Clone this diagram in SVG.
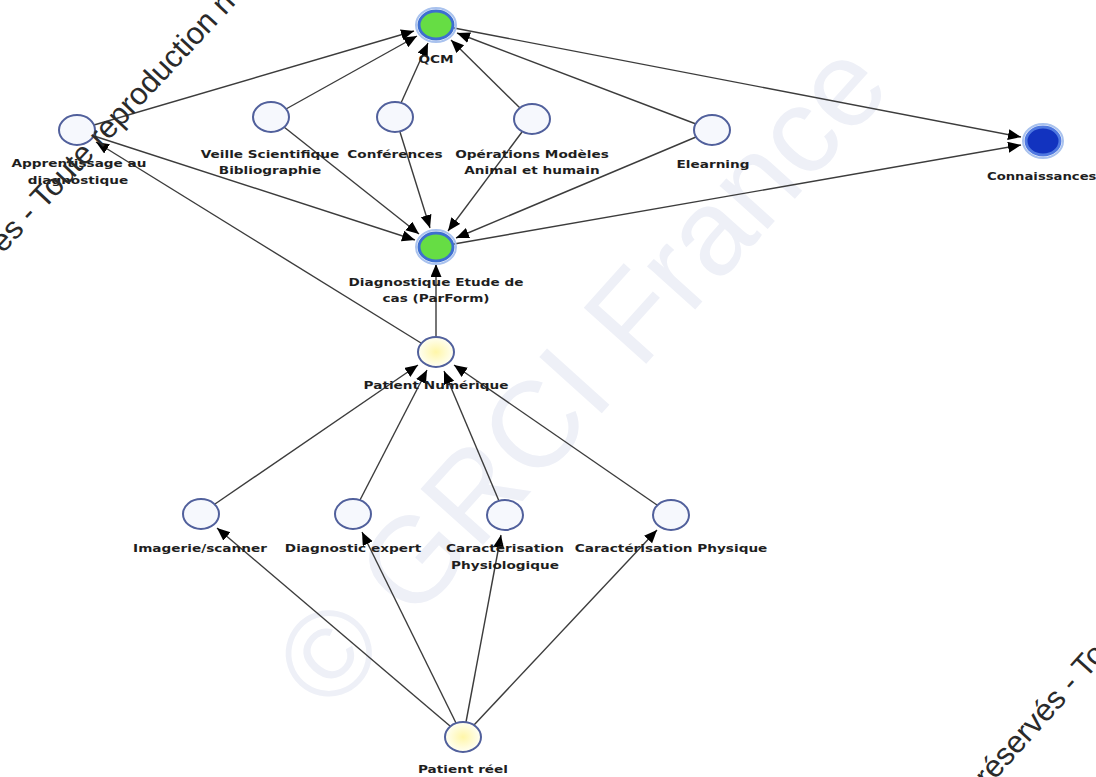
<svg xmlns="http://www.w3.org/2000/svg" width="1096" height="777" viewBox="0 0 1096 777">
<defs>
<style>
.wm{font-family:"Liberation Sans",Arial,sans-serif;font-size:31px;fill:#2a2a2a}
.wmf{font-family:"Liberation Sans",Arial,sans-serif;font-size:122px;fill:#eef0f7}
.edge{stroke:#3c3c3c;stroke-width:1.4;fill:none;marker-end:url(#ah)}
.lbl{font-family:"DejaVu Sans","Noto Sans",sans-serif;font-weight:bold;font-size:11px;fill:#1e1e1e;text-anchor:middle}
.plain{fill:#f6f8fd;stroke:#51609c;stroke-width:2}
.yel{fill:url(#yg);stroke:#51609c;stroke-width:2}
.green{fill:#66dd44;stroke:#3d6fd0;stroke-width:3}
.blue{fill:#1233bf;stroke:#5079e0;stroke-width:3}
.glow{fill:none;stroke:#a9c2ee;stroke-width:2}
</style>
<radialGradient id="yg" cx="0.5" cy="0.5" r="0.5">
<stop offset="0" stop-color="#fff6a8"/>
<stop offset="1" stop-color="#fffff4"/>
</radialGradient>
<marker id="ah" markerUnits="userSpaceOnUse" markerWidth="14" markerHeight="12" refX="13" refY="5.5" orient="auto">
<path d="M0,0 L13,5.5 L0,11 z" fill="#000"/>
</marker>
</defs>
<rect width="1096" height="777" fill="#ffffff"/>
<text class="wmf" transform="translate(330 715) rotate(-48)">© GRCI France</text>
<g id="connectors">
<line class="edge" x1="94" y1="125" x2="414" y2="31"/>
<line class="edge" x1="286" y1="109" x2="417" y2="36"/>
<line class="edge" x1="401" y1="103" x2="428" y2="43"/>
<line class="edge" x1="520" y1="108" x2="451" y2="40"/>
<line class="edge" x1="696" y1="124" x2="457" y2="33"/>
<line class="edge" x1="454" y1="28" x2="1021" y2="137"/>
<line class="edge" x1="454" y1="244" x2="1021" y2="145"/>
<line class="edge" x1="94" y1="136" x2="415" y2="240"/>
<line class="edge" x1="421" y1="343" x2="96" y2="142"/>
<line class="edge" x1="284" y1="127" x2="419" y2="234"/>
<line class="edge" x1="400" y1="132" x2="430" y2="228"/>
<line class="edge" x1="522" y1="132" x2="448" y2="231"/>
<line class="edge" x1="696" y1="137" x2="456" y2="238"/>
<line class="edge" x1="436" y1="337" x2="436" y2="264"/>
<line class="edge" x1="215" y1="504" x2="418" y2="365"/>
<line class="edge" x1="360" y1="500" x2="427" y2="370"/>
<line class="edge" x1="499" y1="501" x2="444" y2="371"/>
<line class="edge" x1="657" y1="505" x2="454" y2="365"/>
<line class="edge" x1="450" y1="726" x2="217" y2="528"/>
<line class="edge" x1="456" y1="723" x2="362" y2="532"/>
<line class="edge" x1="466" y1="722" x2="501" y2="535"/>
<line class="edge" x1="474" y1="725" x2="657" y2="530"/>
</g>
<g id="qcm">
<ellipse class="glow" cx="436" cy="25" rx="20" ry="17"/>
<ellipse class="green" cx="436" cy="25" rx="17" ry="14"/>
<text class="lbl" transform="translate(436 63) scale(1.24 1)">QCM</text>
</g>
<g id="apprentissage">
<ellipse class="plain" cx="77" cy="130" rx="18" ry="15"/>
<text class="lbl" transform="translate(79 167) scale(1.24 1)">Apprentissage au</text>
<text class="lbl" transform="translate(78 184) scale(1.24 1)">diagnostique</text>
</g>
<g id="veille">
<ellipse class="plain" cx="271" cy="117" rx="18" ry="15"/>
<text class="lbl" transform="translate(270 158) scale(1.24 1)">Veille Scientifique</text>
<text class="lbl" transform="translate(270 174) scale(1.24 1)">Bibliographie</text>
</g>
<g id="conferences">
<ellipse class="plain" cx="395" cy="117" rx="18" ry="15"/>
<text class="lbl" transform="translate(395 158) scale(1.24 1)">Conférences</text>
</g>
<g id="operations">
<ellipse class="plain" cx="532" cy="119" rx="18" ry="15"/>
<text class="lbl" transform="translate(532 158) scale(1.24 1)">Opérations Modèles</text>
<text class="lbl" transform="translate(532 174) scale(1.24 1)">Animal et humain</text>
</g>
<g id="elearning">
<ellipse class="plain" cx="712" cy="130" rx="18" ry="15"/>
<text class="lbl" transform="translate(713 168) scale(1.24 1)">Elearning</text>
</g>
<g id="connaissances">
<ellipse class="glow" cx="1043" cy="141" rx="20" ry="17"/>
<ellipse class="blue" cx="1043" cy="141" rx="17" ry="14"/>
<text class="lbl" style="text-anchor:start" transform="translate(987 180) scale(1.2 1)">Connaissances</text>
</g>
<g id="diagnostique">
<ellipse class="glow" cx="436" cy="247" rx="20" ry="17"/>
<ellipse class="green" cx="436" cy="247" rx="17" ry="14"/>
<text class="lbl" transform="translate(436 286) scale(1.24 1)">Diagnostique Etude de</text>
<text class="lbl" transform="translate(436 302) scale(1.24 1)">cas (ParForm)</text>
</g>
<g id="patient-numerique">
<ellipse class="yel" cx="436" cy="352" rx="18" ry="15"/>
<text class="lbl" transform="translate(436 389) scale(1.24 1)">Patient Numérique</text>
</g>
<g id="imagerie">
<ellipse class="plain" cx="201" cy="514" rx="18" ry="15"/>
<text class="lbl" transform="translate(200 552) scale(1.24 1)">Imagerie/scanner</text>
</g>
<g id="diagnostic-expert">
<ellipse class="plain" cx="353" cy="514" rx="18" ry="15"/>
<text class="lbl" transform="translate(353 552) scale(1.24 1)">Diagnostic expert</text>
</g>
<g id="caract-physiologique">
<ellipse class="plain" cx="505" cy="515" rx="18" ry="15"/>
<text class="lbl" transform="translate(505 552) scale(1.24 1)">Caractérisation</text>
<text class="lbl" transform="translate(505 569) scale(1.24 1)">Physiologique</text>
</g>
<g id="caract-physique">
<ellipse class="plain" cx="671" cy="515" rx="18" ry="15"/>
<text class="lbl" transform="translate(671 552) scale(1.24 1)">Caractérisation Physique</text>
</g>
<g id="patient-reel">
<ellipse class="yel" cx="463" cy="737" rx="18" ry="15"/>
<text class="lbl" transform="translate(463 773) scale(1.24 1)">Patient réel</text>
</g>
<text class="wm" transform="translate(44 210) rotate(-47)" x="-60">és - Toute reproduction n</text>
<text class="wm" transform="translate(988 788) rotate(-48)">réservés - To</text>
</svg>
